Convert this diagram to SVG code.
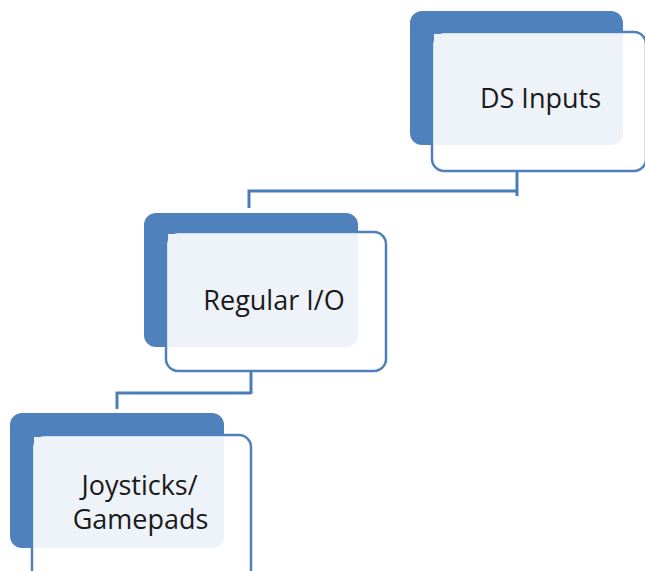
<svg xmlns="http://www.w3.org/2000/svg" width="645" height="571" viewBox="0 0 645 571">
<style>
.back{fill:#4F81BD;}
.front{fill:#FFFFFF;stroke:#4F81BD;stroke-width:2.5;}
.inner{fill:#EEF2F9;}
.lbl{font-family:"Open Sans","Noto Sans",sans-serif;font-size:27px;fill:#1A1A1A;text-anchor:middle;}
.conn{fill:none;stroke:#4A7EBB;stroke-width:3;}
.faint{fill:none;stroke:#D5DFEE;stroke-width:2.5;}
</style>
<rect width="645" height="571" fill="#FFFFFF"/>
<g id="connectors">
<path class="faint" d="M517 150V171"/>
<path class="conn" d="M517 171V196M517 191H249V208"/>
<path class="faint" d="M251 352V371"/>
<path class="conn" d="M251 371V394M251 393H117V409"/>
</g>
<g id="node-ds-inputs">
<rect class="back" x="410" y="11" width="213" height="134" rx="12"/>
<rect class="front" x="432" y="32" width="214" height="139" rx="12"/>
<path class="inner" d="M434 34H623V133A12 12 0 0 1 611 145H434Z"/>
<text class="lbl" x="540.5" y="108">DS Inputs</text>
</g>
<g id="node-regular-io">
<rect class="back" x="144" y="213" width="214" height="134" rx="12"/>
<rect class="front" x="166" y="232" width="220" height="139" rx="12"/>
<path class="inner" d="M168 234H358V335A12 12 0 0 1 346 347H168Z"/>
<text class="lbl" x="274" y="310">Regular I/O</text>
</g>
<g id="node-joysticks">
<rect class="back" x="10" y="413" width="214" height="135" rx="12"/>
<rect class="front" x="32" y="435" width="219" height="150" rx="12"/>
<path class="inner" d="M34 437H224V536A12 12 0 0 1 212 548H34Z"/>
<text class="lbl" x="139.5" y="495">Joysticks/</text>
<text class="lbl" x="140.5" y="529">Gamepads</text>
</g>
</svg>
